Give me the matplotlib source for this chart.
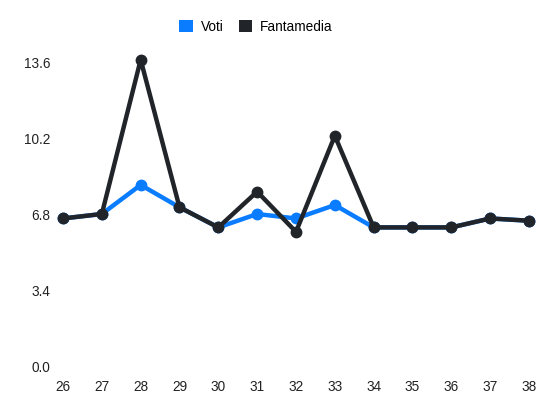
import matplotlib.pyplot as plt
from matplotlib.patches import Patch

plt.rcParams["font.family"] = ["Liberation Sans", "DejaVu Sans"]

giornate = [26, 27, 28, 29, 30, 31, 32, 33, 34, 35, 36, 37, 38]
voti = [6.6, 6.8, 8.1, 7.1, 6.2, 6.8, 6.6, 7.2, 6.2, 6.2, 6.2, 6.6, 6.5]
fantamedia = [6.6, 6.8, 13.7, 7.1, 6.2, 7.8, 6.0, 10.3, 6.2, 6.2, 6.2, 6.6, 6.5]
y_ticks = [0.0, 3.4, 6.8, 10.2, 13.6]

blue = "#0a7cff"
dark = "#212529"

fig = plt.figure(figsize=(5.5, 4.12), dpi=100)
ax = fig.add_axes([63 / 550, 1 - 366 / 412, (529 - 63) / 550, (366 - 62) / 412])

ax.plot(giornate, voti, color=blue, lw=3.2, marker="o", ms=7.5, clip_on=False, zorder=3)
ax.plot(giornate, fantamedia, color=dark, lw=3.2, marker="o", ms=7.5, clip_on=False, zorder=4)

ax.set_xlim(26, 38)
ax.set_ylim(0, 13.6)
ax.set_xticks(giornate)
ax.set_yticks(y_ticks)
ax.set_yticklabels([f"{v:.1f}" for v in y_ticks])
ax.tick_params(axis="both", length=0, labelsize=9.8, colors="#222222")
ax.tick_params(axis="y", pad=9)
ax.tick_params(axis="x", pad=10)
for s in ax.spines.values():
    s.set_visible(False)

handles = [Patch(facecolor=blue, edgecolor="none", label="Voti"),
           Patch(facecolor=dark, edgecolor="none", label="Fantamedia")]
fig.legend(handles=handles, loc="center", bbox_to_anchor=(256 / 550, 1 - 27 / 412),
           ncol=2, frameon=False, fontsize=9.8, handlelength=1.0, handleheight=1.0,
           handletextpad=0.6, columnspacing=1.1)

fig.savefig("out.png", dpi=100)
